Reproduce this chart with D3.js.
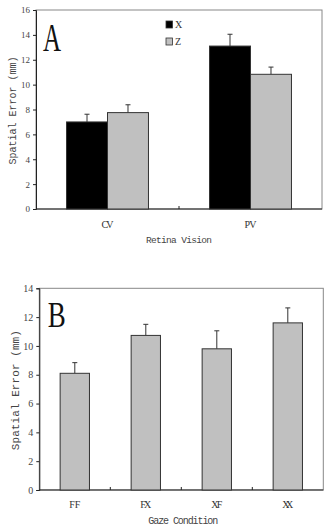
<!DOCTYPE html>
<html>
<head>
<meta charset="utf-8">
<script src="https://cdn.jsdelivr.net/npm/d3@7"></script>
<style>
  body { margin: 0; background: #fff; }
  svg { display: block; }
  .tick text { font-family: 'Liberation Serif', serif; fill: #444; }
  .lbl { font-family: 'Liberation Mono', monospace; fill: #444; }
  .cat { font-family: 'Liberation Serif', serif; fill: #333; }
</style>
</head>
<body>
<svg width="329" height="529"></svg>
<script>
// panel A: retina vision, two series
const catsA = ['CV', 'PV'];
const seriesA = ['X', 'Z'];
const meanX = [7.0, 13.1];
const errX = [0.62, 0.95];
const meanZ = [7.75, 10.83];
const errZ = [0.63, 0.58];
const ticksA = [0, 2, 4, 6, 8, 10, 12, 14, 16];

// panel B: gaze condition
const catsB = ['FF', 'FX', 'XF', 'XX'];
const meanB = [8.1, 10.73, 9.8, 11.6];
const errB = [0.74, 0.77, 1.25, 1.04];
const ticksB = [0, 2, 4, 6, 8, 10, 12, 14];

const colors = {X: '#000', Z: '#c0c0c0'};
const svg = d3.select('svg');

function frame(g, w, h, y, ticks, tickSize, x0) {
    // box around plot area
    g.append('rect')
        .attr('x', 0).attr('y', 0)
        .attr('width', w).attr('height', h)
        .attr('fill', 'none')
        .attr('stroke', '#888')
        .attr('stroke-width', 1);

    var ya = g.append('g')
        .call(d3.axisLeft(y).tickValues(ticks).tickSize(3).tickPadding(3));
    ya.select('.domain').attr('stroke', '#222');
    ya.selectAll('line').attr('stroke', '#222');
    ya.selectAll('text').style('font-size', tickSize + 'px');

    // category dividers: small ticks pointing up
    var step = x0.step();
    var n = x0.domain().length;
    for (var i = 1; i < n; i++) {
        g.append('line')
            .attr('x1', step * i).attr('x2', step * i)
            .attr('y1', h).attr('y2', h - 3)
            .attr('stroke', '#222');
    }
    g.append('line')
        .attr('x1', 0).attr('x2', w)
        .attr('y1', h).attr('y2', h)
        .attr('stroke', '#222');
}

function errorBar(g, cx, yTop, yErr) {
    g.append('line')
        .attr('x1', cx).attr('x2', cx)
        .attr('y1', yTop).attr('y2', yErr)
        .attr('stroke', '#333');
    g.append('line')
        .attr('x1', cx - 2.5).attr('x2', cx + 2.5)
        .attr('y1', yErr).attr('y2', yErr)
        .attr('stroke', '#333');
}

// ---------- panel A ----------
(function() {
    var left = 36, top = 10, w = 286, h = 199;
    var g = svg.append('g').attr('transform', 'translate(' + left + ',' + top + ')');

    var y = d3.scaleLinear().domain([0, 16]).range([h, 0]);
    var x0 = d3.scaleBand().domain(catsA).range([0, w])
        .paddingInner(0.427).paddingOuter(0.2135);
    var x1 = d3.scaleBand().domain(seriesA).range([0, x0.bandwidth()]);

    frame(g, w, h, y, ticksA, 9, x0);

    var rows = catsA.map(function(c, i) {
        return [
            {cat: c, s: 'X', v: meanX[i], e: errX[i]},
            {cat: c, s: 'Z', v: meanZ[i], e: errZ[i]}
        ];
    });

    rows.forEach(function(r) {
        r.forEach(function(d) {
            var bx = x0(d.cat) + x1(d.s);
            errorBar(g, bx + x1.bandwidth() / 2, y(d.v), y(d.v + d.e));
            g.append('rect')
                .attr('x', bx).attr('y', y(d.v))
                .attr('width', x1.bandwidth()).attr('height', h - y(d.v))
                .attr('fill', colors[d.s])
                .attr('stroke', '#333');
        });
    });

    catsA.forEach(function(c) {
        g.append('text').attr('class', 'cat')
            .attr('x', x0(c) + x0.bandwidth() / 2).attr('y', 218)
            .attr('text-anchor', 'middle')
            .attr('textLength', 12)
            .style('font-size', '10px')
            .text(c);
    });

    g.append('text').attr('class', 'lbl')
        .attr('x', w / 2).attr('y', 233)
        .attr('text-anchor', 'middle')
        .attr('textLength', 66)
        .style('font-size', '9.5px')
        .text('Retina Vision');

    g.append('text').attr('class', 'lbl')
        .attr('transform', 'translate(-20,' + (y(8) + 1) + ') rotate(-90)')
        .attr('text-anchor', 'middle')
        .attr('textLength', 108)
        .style('font-size', '10px')
        .text('Spatial Error (mm)');

    g.append('text')
        .attr('transform', 'translate(7,40.5) scale(0.64,1)')
        .style('font-family', "'Liberation Serif', serif")
        .style('font-size', '39px')
        .attr('fill', '#111')
        .text('A');

    // legend
    var lg = g.append('g').attr('transform', 'translate(130,11)');
    seriesA.forEach(function(s, i) {
        lg.append('rect')
            .attr('x', 0).attr('y', i * 17)
            .attr('width', 6.5).attr('height', 7)
            .attr('fill', colors[s])
            .attr('stroke', '#333').attr('stroke-width', 0.8);
        lg.append('text')
            .attr('x', 9).attr('y', i * 17 + 7)
            .style('font-family', "'Liberation Serif', serif")
            .style('font-size', '10px')
            .attr('fill', '#333')
            .text(s);
    });
})();

// ---------- panel B ----------
(function() {
    var left = 39.3, top = 288.3, w = 284, h = 201.7;
    var g = svg.append('g').attr('transform', 'translate(' + left + ',' + top + ')');

    var y = d3.scaleLinear().domain([0, 14]).range([h, 0]);
    var x = d3.scaleBand().domain(catsB).range([0, w])
        .paddingInner(0.587).paddingOuter(0.2935);

    frame(g, w, h, y, ticksB, 10, x);

    catsB.forEach(function(c, i) {
        errorBar(g, x(c) + x.bandwidth() / 2, y(meanB[i]), y(meanB[i] + errB[i]));
        g.append('rect')
            .attr('x', x(c)).attr('y', y(meanB[i]))
            .attr('width', x.bandwidth()).attr('height', h - y(meanB[i]))
            .attr('fill', '#c0c0c0')
            .attr('stroke', '#333');

        g.append('text').attr('class', 'cat')
            .attr('x', x(c) + x.bandwidth() / 2).attr('y', 220)
            .attr('text-anchor', 'middle')
            .attr('textLength', 11)
            .style('font-size', '10px')
            .text(c);
    });

    g.append('text').attr('class', 'lbl')
        .attr('x', w / 2 + 2).attr('y', 236)
        .attr('text-anchor', 'middle')
        .attr('textLength', 70)
        .style('font-size', '10px')
        .text('Gaze Condition');

    g.append('text').attr('class', 'lbl')
        .attr('transform', 'translate(-20,' + (y(7) + 1) + ') rotate(-90)')
        .attr('text-anchor', 'middle')
        .attr('textLength', 120)
        .style('font-size', '11px')
        .text('Spatial Error (mm)');

    g.append('text')
        .attr('transform', 'translate(8.5,38.5) scale(0.75,1)')
        .style('font-family', "'Liberation Serif', serif")
        .style('font-size', '36px')
        .attr('fill', '#111')
        .text('B');
})();
</script>
</body>
</html>
